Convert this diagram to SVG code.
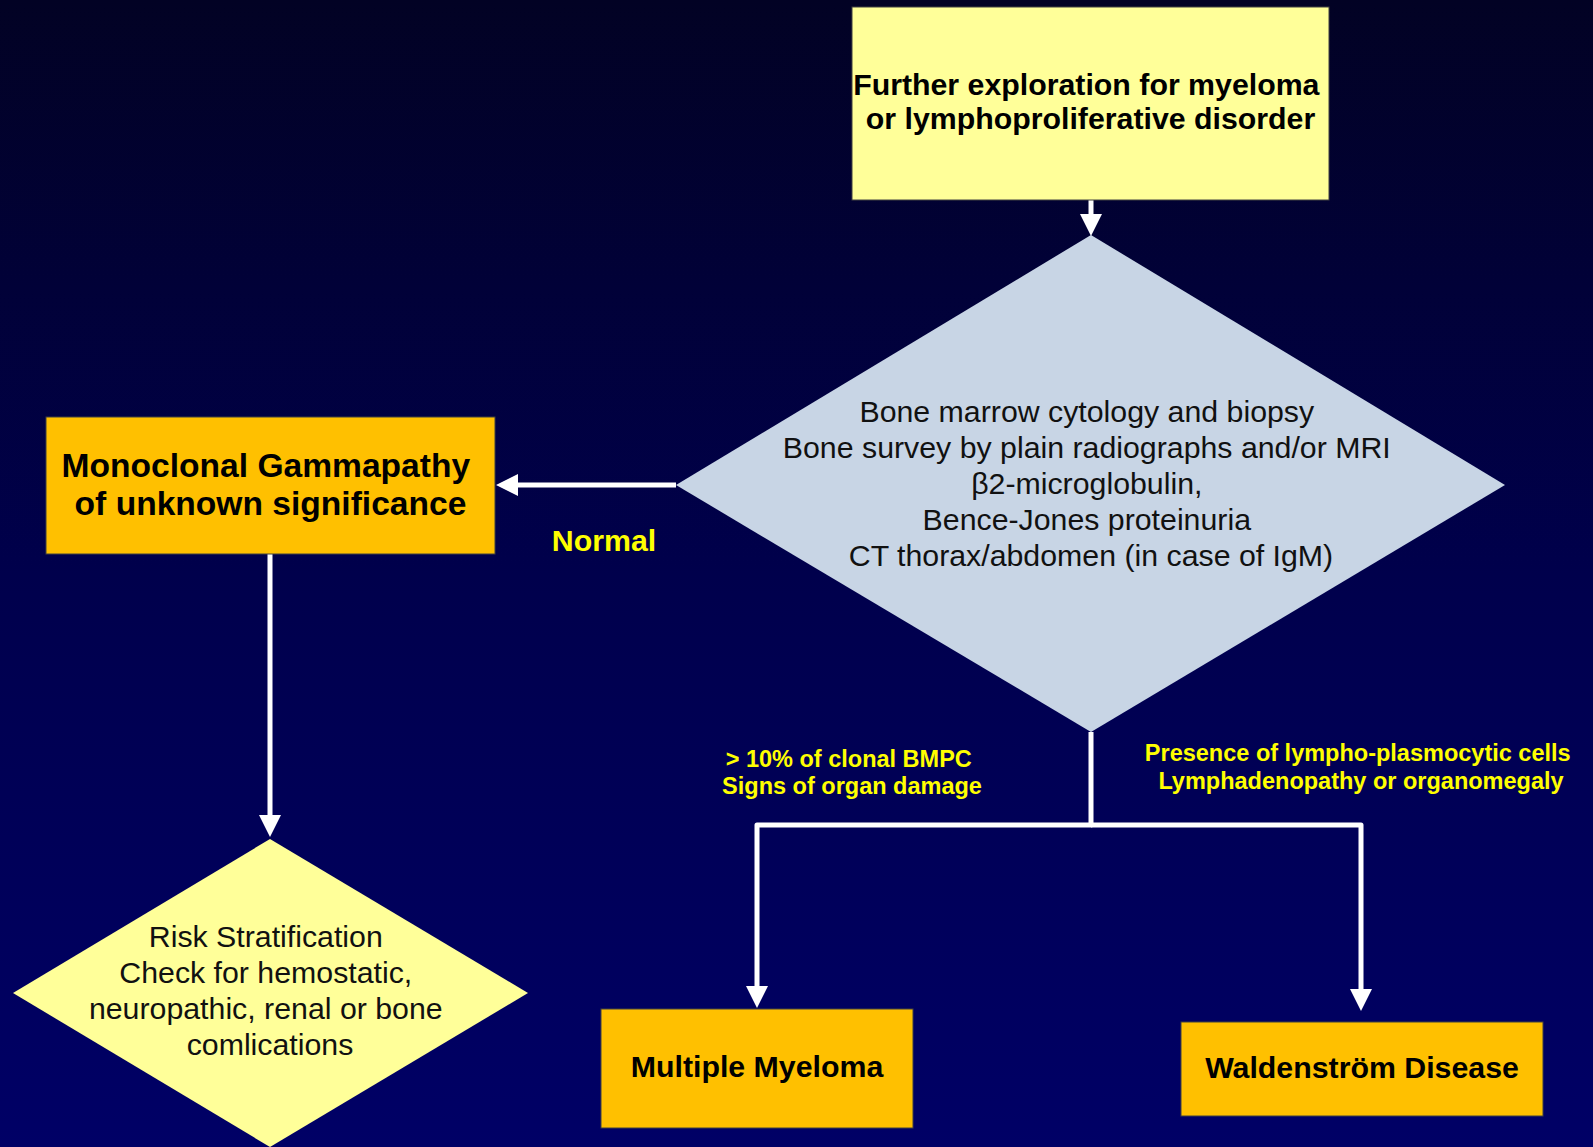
<svg xmlns="http://www.w3.org/2000/svg" width="1593" height="1147" viewBox="0 0 1593 1147">
  <defs>
    <linearGradient id="bg" x1="0" y1="0" x2="0" y2="1">
      <stop offset="0" stop-color="#020224"/>
      <stop offset="0.5" stop-color="#00004C"/>
      <stop offset="1" stop-color="#000066"/>
    </linearGradient>
    <marker id="arrow" markerUnits="userSpaceOnUse" viewBox="0 0 22 22" refX="2" refY="11" markerWidth="22" markerHeight="22" orient="auto">
      <path d="M0,0 L22,11 L0,22 z" fill="#FFFFFF"/>
    </marker>
    <style>
      .conn { fill: none; stroke: #FFFFFF; stroke-width: 5; }
      .box { stroke: #404040; stroke-width: 1; }
      .bold { font-family: "Liberation Sans", Arial, sans-serif; font-weight: bold; text-anchor: middle; }
      .reg { font-family: "Liberation Sans", Arial, sans-serif; text-anchor: middle; fill: #111111; }
      .lbl { font-family: "Liberation Sans", Arial, sans-serif; font-weight: bold; text-anchor: middle; fill: #FFFF00; }
    </style>
  </defs>
  <rect x="0" y="0" width="1593" height="1147" fill="url(#bg)"/>

  <g id="connectors">
    <line class="conn" x1="1091" y1="200" x2="1091" y2="216" marker-end="url(#arrow)"/>
    <line class="conn" x1="676" y1="485" x2="516" y2="485" marker-end="url(#arrow)"/>
    <line class="conn" x1="270" y1="554" x2="270" y2="817" marker-end="url(#arrow)"/>
    <path class="conn" stroke-linejoin="round" d="M1091,732 V825 H757 V988" marker-end="url(#arrow)"/>
    <path class="conn" stroke-linejoin="round" d="M1091,825 H1361 V991" marker-end="url(#arrow)"/>
  </g>

  <g id="node-further">
    <rect class="box" x="852" y="7" width="477" height="193" fill="#FFFF99"/>
    <text class="bold" font-size="30.3" fill="#000000">
      <tspan x="1090.5" y="95">Further exploration for myeloma</tspan>
      <tspan x="1090.5" y="129">or lymphoproliferative disorder</tspan>
    </text>
  </g>

  <g id="node-tests">
    <polygon points="1091,235 1505,485 1091,732 676,485" fill="#C8D5E5"/>
    <text class="reg" font-size="30.3">
      <tspan x="1091" y="422">Bone marrow cytology and biopsy</tspan>
      <tspan x="1091" y="458">Bone survey by plain radiographs and/or MRI</tspan>
      <tspan x="1091" y="494">β2-microglobulin,</tspan>
      <tspan x="1091" y="530">Bence-Jones proteinuria</tspan>
      <tspan x="1091" y="566">CT thorax/abdomen (in case of IgM)</tspan>
    </text>
  </g>

  <g id="node-mgus">
    <rect class="box" x="46" y="417" width="449" height="137" fill="#FFC000"/>
    <text class="bold" font-size="33.6" fill="#000000">
      <tspan x="270.5" y="477">Monoclonal Gammapathy</tspan>
      <tspan x="270.5" y="515">of unknown significance</tspan>
    </text>
  </g>

  <g id="label-normal">
    <text class="lbl" font-size="30.3" x="604" y="551">Normal</text>
  </g>

  <g id="label-mm">
    <text class="lbl" font-size="23.5">
      <tspan x="852" y="767">&gt; 10% of clonal BMPC</tspan>
      <tspan x="852" y="794">Signs of organ damage</tspan>
    </text>
  </g>

  <g id="label-wd">
    <text class="lbl" font-size="23.5">
      <tspan x="1361" y="761">Presence of lympho-plasmocytic cells</tspan>
      <tspan x="1361" y="789">Lymphadenopathy or organomegaly</tspan>
    </text>
  </g>

  <g id="node-risk">
    <polygon points="270,839 528,993 270,1147 13,993" fill="#FFFF99"/>
    <text class="reg" font-size="30.3">
      <tspan x="270" y="947">Risk Stratification</tspan>
      <tspan x="270" y="983">Check for hemostatic,</tspan>
      <tspan x="270" y="1019">neuropathic, renal or bone</tspan>
      <tspan x="270" y="1055">comlications</tspan>
    </text>
  </g>

  <g id="node-mm">
    <rect class="box" x="601" y="1009" width="312" height="119" fill="#FFC000"/>
    <text class="bold" font-size="30.3" fill="#000000" x="757" y="1077">Multiple Myeloma</text>
  </g>

  <g id="node-wd">
    <rect class="box" x="1181" y="1022" width="362" height="94" fill="#FFC000"/>
    <text class="bold" font-size="30.3" fill="#000000" x="1362" y="1078">Waldenström Disease</text>
  </g>
</svg>
